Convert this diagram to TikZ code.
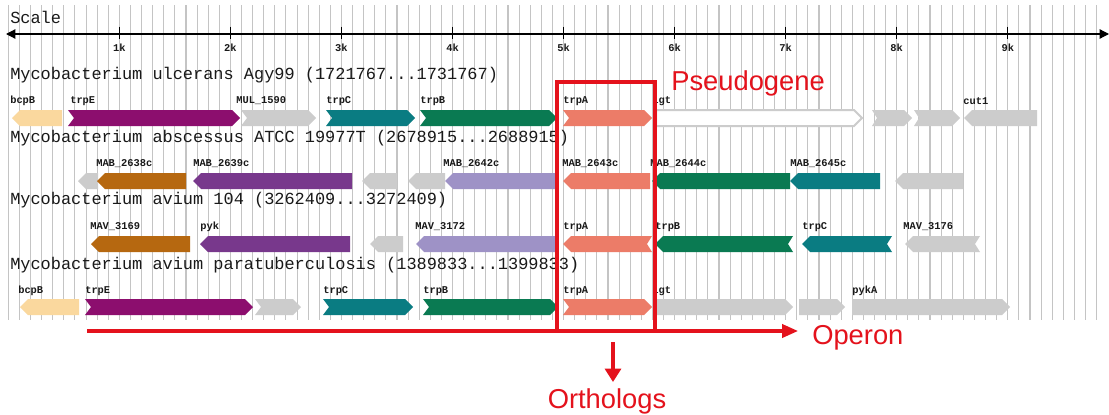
\documentclass[tikz,border=0pt]{standalone}
\usepackage{fontspec}
\setmainfont{Liberation Sans}
\setmonofont{Liberation Mono}
\usetikzlibrary{arrows.meta}

\definecolor{gridgray}{RGB}{196,196,196}
\definecolor{cbeige}{RGB}{250,216,158}
\definecolor{cplum}{RGB}{140,14,110}
\definecolor{cpurple}{RGB}{120,56,140}
\definecolor{cochre}{RGB}{182,104,16}
\definecolor{cteal}{RGB}{10,124,130}
\definecolor{cgreen}{RGB}{10,122,82}
\definecolor{csalmon}{RGB}{236,124,104}
\definecolor{clav}{RGB}{158,146,198}
\definecolor{cgray}{RGB}{204,204,204}
\definecolor{cred}{RGB}{228,18,28}
\definecolor{cink}{RGB}{25,25,25}

% right-pointing gene: #1 start, #2 tip, #3 row centre, #4 tail notch, #5 style
\newcommand{\generight}[5]{%
  \path[#5] (#1,{#3-8}) -- ({#2-8},{#3-8}) -- (#2,#3) -- ({#2-8},{#3+8})
    -- (#1,{#3+8}) -- ({#1+#4},#3) -- cycle;}
% left-pointing gene: #1 tip, #2 end, #3 row centre, #4 tail notch, #5 style
\newcommand{\geneleft}[5]{%
  \path[#5] (#1,#3) -- ({#1+8},{#3-8}) -- (#2,{#3-8}) -- ({#2-#4},#3)
    -- (#2,{#3+8}) -- ({#1+8},{#3+8}) -- cycle;}

\tikzset{
  gridline/.style={draw=gridgray, line width=0.8pt},
  axisline/.style={draw=black, line width=0.9pt},
  tickmark/.style={draw=black, line width=0.75pt},
  ticklabel/.style={font=\ttfamily\bfseries\fontsize{7.8}{8}\selectfont, text=cink, inner sep=0pt},
  title/.style={font=\ttfamily\fontsize{12.7}{14}\selectfont, text=cink, anchor=west, inner sep=0pt},
  glabel/.style={font=\ttfamily\bfseries\fontsize{7.8}{8}\selectfont, text=cink, anchor=west, inner sep=0pt},
  gbeige/.style={fill=cbeige},
  gplum/.style={fill=cplum},
  gpurple/.style={fill=cpurple},
  gochre/.style={fill=cochre},
  gteal/.style={fill=cteal},
  ggreen/.style={fill=cgreen},
  gsalmon/.style={fill=csalmon},
  glav/.style={fill=clav},
  ggray/.style={fill=cgray},
  gopen/.style={fill=white, draw=cgray, line width=1.5pt},
  redbox/.style={draw=cred, line width=2.3pt},
  operonarrow/.style={draw=cred, line width=2.3pt, -{Triangle[length=12pt,width=10pt]}},
  orthoarrow/.style={draw=cred, line width=2.3pt, -{Triangle[length=10pt,width=12pt]}},
  redtext/.style={font=\fontsize{20.5}{24}\selectfont, text=cred, inner sep=0pt},
}

\begin{document}
\begin{tikzpicture}[x=0.75pt,y=-0.75pt]
\useasboundingbox[fill=white] (0,0) rectangle (1109,414);

% background grid, one line every 100 bp
\foreach \i in {0,...,98}
  \draw[gridline] ({8.3+11.105*\i},5) -- ({8.3+11.105*\i},320);

% scale bar
\node[title] (scale) at (10,17) {Scale};
\coordinate (axL) at (6,34);
\coordinate (axR) at (1109,34);
\draw[axisline, {Triangle[length=7pt,width=7pt]}-{Triangle[length=7pt,width=7pt]}] (axL) -- (axR);
\foreach \k in {1,...,9} {
  \coordinate (tk\k) at ({8.3+111.05*\k},34);
  \draw[tickmark] ([yshift=5.5pt]tk\k) -- ([yshift=-4pt]tk\k);
  \node[ticklabel] (tl\k) at ({8.3+111.05*\k},48) {\k k};
}

% genome titles
\node[title] (t1) at (10,75) {Mycobacterium ulcerans Agy99 (1721767...1731767)};
\node[title] (t2) at (10,138) {Mycobacterium abscessus ATCC 19977T (2678915...2688915)};
\node[title] (t3) at (10,200) {Mycobacterium avium 104 (3262409...3272409)};
\node[title] (t4) at (10,265) {Mycobacterium avium paratuberculosis (1389833...1399833)};

% ---- M. ulcerans ----
\geneleft{12}{62}{118}{0}{gbeige}
\generight{68}{240}{118}{6}{gplum}
\generight{241}{316}{118}{6}{ggray}
\generight{326}{415}{118}{6}{gteal}
\generight{420}{557}{118}{6}{ggreen}
\generight{563}{652}{118}{6}{gsalmon}
\generight{656}{862}{118}{0}{gopen}
\generight{872}{912}{118}{5}{ggray}
\generight{914}{960}{118}{5}{ggray}
\geneleft{964}{1037}{118}{0}{ggray}
\node[glabel] (a1) at (10,101) {bcpB};
\node[glabel] (a2) at (70,101) {trpE};
\node[glabel] (a3) at (236,101) {MUL\_1590};
\node[glabel] (a4) at (326,101) {trpC};
\node[glabel] (a5) at (420,101) {trpB};
\node[glabel] (a6) at (563,101) {trpA};
\node[glabel] (a7) at (652,101) {lgt};
\node[glabel] (a8) at (963,101) {cut1};

% ---- M. abscessus ----
\geneleft{78}{98}{181}{0}{ggray}
\geneleft{97}{186}{181}{0}{gochre}
\geneleft{193}{352}{181}{0}{gpurple}
\geneleft{362}{397}{181}{0}{ggray}
\geneleft{408}{445}{181}{0}{ggray}
\geneleft{445}{555}{181}{0}{glav}
\geneleft{563}{650}{181}{0}{gsalmon}
\geneleft{652}{790}{181}{0}{ggreen}
\geneleft{790}{880}{181}{0}{gteal}
\geneleft{895}{963}{181}{0}{ggray}
\node[glabel] (b1) at (96,164) {MAB\_2638c};
\node[glabel] (b2) at (193,164) {MAB\_2639c};
\node[glabel] (b3) at (443,164) {MAB\_2642c};
\node[glabel] (b4) at (562,164) {MAB\_2643c};
\node[glabel] (b5) at (650,164) {MAB\_2644c};
\node[glabel] (b6) at (790,164) {MAB\_2645c};

% ---- M. avium 104 ----
\geneleft{91}{190}{244}{0}{gochre}
\geneleft{200}{350}{244}{0}{gpurple}
\geneleft{370}{403}{244}{0}{ggray}
\geneleft{416}{555}{244}{0}{glav}
\geneleft{563}{652}{244}{5}{gsalmon}
\geneleft{655}{793}{244}{5}{ggreen}
\geneleft{802}{892}{244}{5}{gteal}
\geneleft{905}{980}{244}{5}{ggray}
\node[glabel] (c1) at (90,227) {MAV\_3169};
\node[glabel] (c2) at (200,227) {pyk};
\node[glabel] (c3) at (415,227) {MAV\_3172};
\node[glabel] (c4) at (563,227) {trpA};
\node[glabel] (c5) at (655,227) {trpB};
\node[glabel] (c6) at (802,227) {trpC};
\node[glabel] (c7) at (903,227) {MAV\_3176};

% ---- M. avium paratuberculosis ----
\geneleft{20}{79}{307}{0}{gbeige}
\generight{85}{253}{307}{6}{gplum}
\generight{255}{301}{307}{6}{ggray}
\generight{323}{413}{307}{6}{gteal}
\generight{423}{558}{307}{6}{ggreen}
\generight{563}{652}{307}{6}{gsalmon}
\generight{656}{793}{307}{0}{ggray}
\generight{799}{845}{307}{0}{ggray}
\generight{852}{1010}{307}{0}{ggray}
\node[glabel] (d1) at (18,291) {bcpB};
\node[glabel] (d2) at (85,291) {trpE};
\node[glabel] (d3) at (323,291) {trpC};
\node[glabel] (d4) at (423,291) {trpB};
\node[glabel] (d5) at (563,291) {trpA};
\node[glabel] (d6) at (652,291) {lgt};
\node[glabel] (d7) at (852,291) {pykA};

% ---- annotations ----
\draw[redbox] (557,82) rectangle (655,331);
\coordinate (opA) at (87,331);
\coordinate (opB) at (798,331);
\draw[operonarrow] (opA) -- (opB);
\node[redtext, anchor=west] (operon) at (812,338) {Operon};
\node[redtext, anchor=west] (pseudo) at (671,83) {Pseudogene};
\node[redtext] (ortho) at (607,401) {Orthologs};
\coordinate (orA) at (613,342);
\coordinate (orB) at (613,382);
\draw[orthoarrow] (orA) -- (orB);
\end{tikzpicture}
\end{document}
